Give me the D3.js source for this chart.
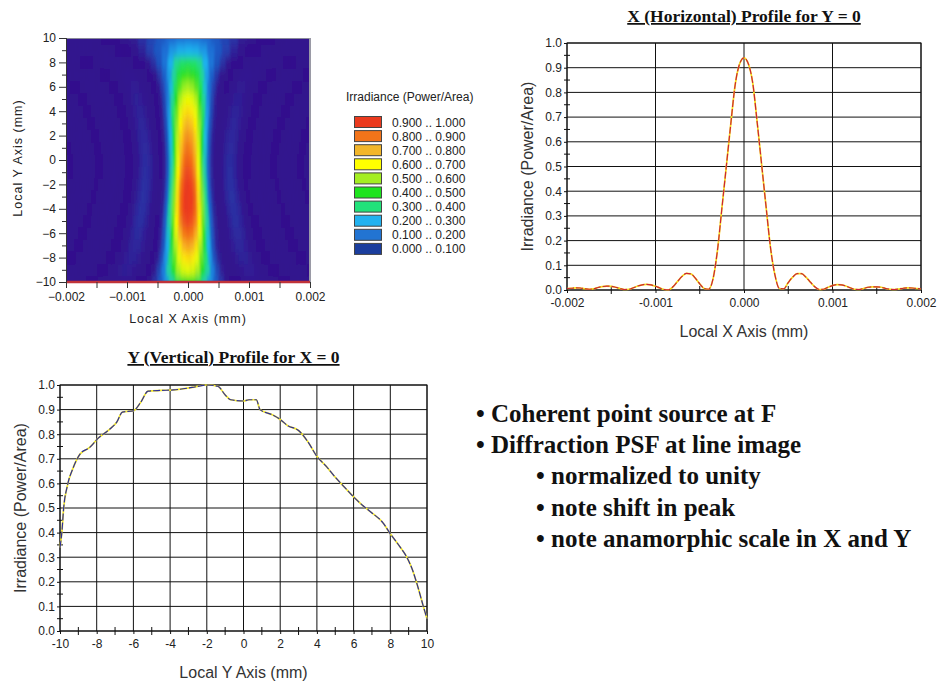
<!DOCTYPE html>
<html>
<head>
<meta charset="utf-8">
<script src="https://cdn.jsdelivr.net/npm/d3@7"></script>
<style>
  body { margin: 0; background: #fff; }
  svg text { font-family: Arial, "Liberation Sans", sans-serif; }
  svg text.serif { font-family: "Liberation Serif", "Times New Roman", serif; font-weight: bold; }
</style>
</head>
<body>
<svg id="fig" width="938" height="686"></svg>
<script>
// ---- data ----
// X profile at Y = 0, sampled every 0.00005 mm from -0.002 to 0.002
const xStep = 0.00005;
const xProfile = [
  0.006, 0.007, 0.009, 0.008, 0.005, 0.003, 0.005, 0.010, 0.014, 0.016,
  0.015, 0.011, 0.006, 0.002, 0.003, 0.009, 0.016, 0.021, 0.023, 0.021,
  0.015, 0.008, 0.002, 0.001, 0.014, 0.035, 0.055, 0.067, 0.065, 0.048,
  0.025, 0.006, 0.003, 0.045, 0.160, 0.330, 0.500, 0.670, 0.830, 0.915,
  0.940,
  0.915, 0.835, 0.675, 0.505, 0.335, 0.170, 0.060, 0.006, 0.005, 0.030,
  0.052, 0.066, 0.066, 0.052, 0.032, 0.013, 0.002, 0.003, 0.011, 0.018,
  0.022, 0.021, 0.016, 0.009, 0.003, 0.002, 0.006, 0.011, 0.013, 0.013,
  0.011, 0.006, 0.003, 0.002, 0.004, 0.007, 0.009, 0.008, 0.006, 0.005
];
const xPositions = d3.range(xProfile.length).map(i => -0.002 + i * xStep);

// Y profile at X = 0
const yProfileY = [-10, -9.9, -9.8, -9.6, -9.3, -8.9, -8.4, -7.9, -7.3, -6.9,
  -6.6, -6.0, -5.6, -5.2, -4.5, -3.8, -2.8, -2.0, -1.4, -1.0, -0.7, 0, 0.3,
  0.7, 0.9, 1.6, 2.0, 2.4, 3.0, 3.5, 4.0, 4.5, 5.0, 5.5, 6.0, 6.5, 7.0, 7.6,
  8.0, 8.5, 8.9, 9.2, 9.5, 9.8, 10];
const yProfile = [0.34, 0.40, 0.50, 0.59, 0.66, 0.72, 0.745, 0.785, 0.82, 0.85,
  0.89, 0.895, 0.93, 0.975, 0.978, 0.98, 0.99, 1.0, 0.995, 0.96, 0.94, 0.935, 0.94,
  0.94, 0.90, 0.878, 0.86, 0.835, 0.815, 0.77, 0.71, 0.67, 0.625, 0.585, 0.545,
  0.51, 0.48, 0.44, 0.395, 0.345, 0.30, 0.25, 0.18, 0.10, 0.05];

// irradiance map: one row per mm, peak on the axis and relative spread of the X profile
const heatY = [-10, -9, -8, -7, -6, -5, -4, -3, -2, -1, 0, 1, 2, 3, 4, 5, 6, 7, 8, 9, 10];
const heatPeak = [0.45, 0.62, 0.70, 0.78, 0.86, 0.93, 0.97, 0.98, 0.96, 0.92, 0.88,
  0.84, 0.80, 0.75, 0.70, 0.63, 0.55, 0.47, 0.39, 0.28, 0.21];
const heatWidth = [1.8, 1.6, 1.45, 1.35, 1.3, 1.25, 1.2, 1.15, 1.12, 1.1, 1.1,
  1.12, 1.15, 1.2, 1.25, 1.3, 1.4, 1.55, 1.9, 2.5, 3.0];

// legend
const legendLabels = ["0.900 .. 1.000", "0.800 .. 0.900", "0.700 .. 0.800", "0.600 .. 0.700",
  "0.500 .. 0.600", "0.400 .. 0.500", "0.300 .. 0.400", "0.200 .. 0.300",
  "0.100 .. 0.200", "0.000 .. 0.100"];
const legendColors = ["#ea3a1e", "#f2741a", "#f2b62a", "#ffff00", "#a4ee22",
  "#1ee41e", "#22e27a", "#22b2f0", "#2274d2", "#1b3e9e"];

const bullets = [
  { text: "• Coherent point source at F", level: 0 },
  { text: "• Diffraction PSF at line image", level: 0 },
  { text: "• normalized to unity", level: 1 },
  { text: "• note shift in peak", level: 1 },
  { text: "• note anamorphic scale in X and Y", level: 1 }
];

const svg = d3.select("#fig");
const defs = svg.append("defs");

// ---------------- irradiance map ----------------
const heat = { left: 66, top: 38, width: 244, height: 244 };
const hx = d3.scaleLinear().domain([-0.002, 0.002]).range([0, heat.width]);
const hy = d3.scaleLinear().domain([-10, 10]).range([heat.height, 0]);
const heatColor = d3.scaleLinear()
  .domain([0, 0.03, 0.075, 0.13, 0.2, 0.28, 0.36, 0.45, 0.55, 0.65, 0.75, 0.85, 0.95])
  .range(["#33118d", "#32168f", "#2a34a6", "#1f50bc", "#1e70d6", "#1fb4f0", "#20e276",
    "#20e020", "#a6f020", "#ffff00", "#f8b822", "#f47018", "#ee3a1c"])
  .clamp(true);

defs.append("clipPath").attr("id", "heatClip")
  .append("rect").attr("width", heat.width).attr("height", heat.height);
defs.append("filter").attr("id", "soft")
  .attr("x", "-5%").attr("y", "-5%").attr("width", "110%").attr("height", "110%")
  .append("feGaussianBlur").attr("stdDeviation", "1.2 4.5");

const gh = svg.append("g").attr("transform", `translate(${heat.left},${heat.top})`);
gh.append("rect").attr("width", heat.width).attr("height", heat.height).attr("fill", heatColor(0));

const cells = [];
heatY.forEach((yv, j) => {
  xPositions.forEach((xv, i) => {
    cells.push({
      x0: (xv - xStep / 2) * heatWidth[j],
      x1: (xv + xStep / 2) * heatWidth[j],
      y0: yv - 0.5,
      y1: yv + 0.5,
      v: heatPeak[j] * xProfile[i] / 0.94
    });
  });
});

gh.append("g").attr("clip-path", "url(#heatClip)")
  .append("g").attr("filter", "url(#soft)")
  .selectAll("rect")
  .data(cells)
  .join("rect")
  .attr("x", d => hx(d.x0))
  .attr("width", d => hx(d.x1) - hx(d.x0) + 0.4)
  .attr("y", d => hy(d.y1))
  .attr("height", d => hy(d.y0) - hy(d.y1) + 0.4)
  .attr("fill", d => heatColor(d.v));

// borders
gh.append("line").attr("x1", 0).attr("x2", heat.width).attr("y1", 0.5).attr("y2", 0.5)
  .attr("stroke", "#8a8a9a").attr("stroke-width", 1);
gh.append("line").attr("x1", heat.width).attr("x2", heat.width).attr("y1", 0).attr("y2", heat.height)
  .attr("stroke", "#9a9aa6").attr("stroke-width", 2);
gh.append("line").attr("x1", 0).attr("x2", heat.width).attr("y1", heat.height).attr("y2", heat.height)
  .attr("stroke", "#c0333a").attr("stroke-width", 2.5);

gh.append("g").call(
  d3.axisLeft(hy).tickValues(d3.range(-10, 11, 2)).tickSize(7).tickPadding(3)
    .tickFormat(d3.format("d")));
gh.append("g").call(
  d3.axisLeft(hy).tickValues(d3.range(-9, 10, 2)).tickSize(4).tickFormat(""));
const hBottom = gh.append("g").attr("transform", `translate(0,${heat.height})`).call(
  d3.axisBottom(hx).tickValues(d3.range(-0.002, 0.00201, 0.0005)).tickSize(6).tickPadding(4)
    .tickFormat((d, i) => (i % 2 === 0 ? d3.format(".3f")(d) : "")));
gh.selectAll(".domain").attr("stroke", "#333");
hBottom.select(".domain").remove();
gh.selectAll(".tick line").attr("stroke", "#333");
gh.selectAll(".tick text").attr("font-size", 12).attr("fill", "#222");

gh.append("text")
  .attr("x", heat.width / 2).attr("y", heat.height + 41)
  .attr("text-anchor", "middle").attr("font-size", 12.5).attr("letter-spacing", 1)
  .attr("fill", "#222").text("Local X Axis (mm)");
gh.append("text")
  .attr("transform", `translate(-44,${heat.height / 2 - 2}) rotate(-90)`)
  .attr("text-anchor", "middle").attr("font-size", 12.5).attr("letter-spacing", 1)
  .attr("fill", "#222").text("Local Y Axis (mm)");

// legend
const gl = svg.append("g").attr("transform", "translate(346,0)");
gl.append("text").attr("x", 0).attr("y", 101).attr("font-size", 12).attr("fill", "#222")
  .text("Irradiance (Power/Area)");
const legendRows = gl.selectAll("g.row")
  .data(legendLabels)
  .join("g")
  .attr("class", "row")
  .attr("transform", (d, i) => `translate(0,${116 + i * 14.1})`);
legendRows.append("rect")
  .attr("x", 8.5).attr("y", 0.5).attr("width", 27).attr("height", 11)
  .attr("fill", (d, i) => legendColors[i]).attr("stroke", "#444");
legendRows.append("text")
  .attr("x", 46).attr("y", 10.5).attr("font-size", 12).attr("fill", "#222")
  .text(d => d);

// ---------------- profile charts ----------------
function profileChart(opts) {
  const { box, xDomain, xMajor, xMinor, xFormat, xs, ys, title, xTitle, colorA, colorB } = opts;
  const g = svg.append("g").attr("transform", `translate(${box.left},${box.top})`);
  const x = d3.scaleLinear().domain(xDomain).range([0, box.width]);
  const y = d3.scaleLinear().domain([0, 1]).range([box.height, 0]);

  // gridlines
  g.append("g").selectAll("line.v")
    .data(xMajor)
    .join("line")
    .attr("x1", d => x(d)).attr("x2", d => x(d))
    .attr("y1", 0).attr("y2", box.height)
    .attr("stroke", "#111").attr("stroke-width", 1);
  g.append("g").selectAll("line.h")
    .data(d3.range(0, 1.01, 0.1))
    .join("line")
    .attr("x1", 0).attr("x2", box.width)
    .attr("y1", d => y(d)).attr("y2", d => y(d))
    .attr("stroke", "#111").attr("stroke-width", 1);
  g.append("rect").attr("width", box.width).attr("height", box.height)
    .attr("fill", "none").attr("stroke", "#111").attr("stroke-width", 1);

  // axes
  g.append("g").call(
    d3.axisLeft(y).tickValues(d3.range(0, 1.01, 0.1)).tickSize(3).tickPadding(2)
      .tickFormat(d3.format(".1f")));
  g.append("g").selectAll("line")
    .data(d3.range(0.05, 1, 0.1))
    .join("line")
    .attr("x1", -3).attr("x2", 3)
    .attr("y1", d => y(d)).attr("y2", d => y(d))
    .attr("stroke", "#111");
  g.append("g").attr("transform", `translate(0,${box.height})`).call(
    d3.axisBottom(x).tickValues(xMajor).tickSize(3).tickPadding(5).tickFormat(xFormat));
  g.append("g").selectAll("line")
    .data(xMinor)
    .join("line")
    .attr("x1", d => x(d)).attr("x2", d => x(d))
    .attr("y1", box.height - 4).attr("y2", box.height + 4)
    .attr("stroke", "#111");
  g.selectAll(".domain").remove();
  g.selectAll(".tick line").attr("stroke", "#111");
  g.selectAll(".tick text").attr("font-size", 12).attr("fill", "#222");

  // lines
  const pts = xs.map((d, i) => [d, ys[i]]);
  const line = d3.line().x(d => x(d[0])).y(d => y(d[1])).curve(d3.curveMonotoneX);
  g.append("path").datum(pts)
    .attr("fill", "none").attr("stroke", colorB).attr("stroke-width", 1.7)
    .attr("d", line);
  g.append("path").datum(pts)
    .attr("fill", "none").attr("stroke", colorA).attr("stroke-width", 1.2)
    .attr("stroke-dasharray", "7,2")
    .attr("d", line);

  // titles
  g.append("text")
    .attr("class", "serif")
    .attr("x", box.width / 2 + opts.titleShift).attr("y", -box.titleGap)
    .attr("text-anchor", "middle")
    .attr("font-size", 17.5)
    .attr("text-decoration", "underline").attr("fill", "#111")
    .text(title);
  g.append("text")
    .attr("x", box.width / 2).attr("y", box.height + 47)
    .attr("text-anchor", "middle").attr("font-size", 16).attr("fill", "#333")
    .text(xTitle);
  g.append("text")
    .attr("transform", `translate(${-box.yTitleGap},${box.height / 2}) rotate(-90)`)
    .attr("text-anchor", "middle").attr("font-size", 16).attr("fill", "#333")
    .text("Irradiance (Power/Area)");
}

profileChart({
  box: { left: 567, top: 43, width: 354, height: 247, titleGap: 21, yTitleGap: 34 },
  xDomain: [-0.002, 0.002],
  xMajor: [-0.002, -0.001, 0, 0.001, 0.002],
  xMinor: [-0.0015, -0.0005, 0.0005, 0.0015],
  xFormat: d => d.toFixed(3),
  xs: xPositions, ys: xProfile,
  title: "X (Horizontal) Profile for Y = 0",
  titleShift: 0,
  xTitle: "Local X Axis (mm)",
  colorA: "#cc2238", colorB: "#f6e21a"
});

profileChart({
  box: { left: 60, top: 385, width: 367, height: 246, titleGap: 22, yTitleGap: 34 },
  xDomain: [-10, 10],
  xMajor: d3.range(-10, 11, 2),
  xMinor: d3.range(-9, 10, 2),
  xFormat: d => String(d),
  xs: yProfileY, ys: yProfile,
  title: "Y (Vertical) Profile for X = 0",
  titleShift: -10,
  xTitle: "Local Y Axis (mm)",
  colorA: "#2e2e9a", colorB: "#f6ea2a"
});

// ---------------- bullet notes ----------------
svg.append("g").selectAll("text")
  .data(bullets)
  .join("text")
  .attr("class", "serif")
  .attr("x", d => (d.level === 0 ? 476 : 536))
  .attr("y", (d, i) => 422 + i * 31.2)
  .attr("font-size", 25).attr("fill", "#111")
  .text(d => d.text);
</script>
</body>
</html>
